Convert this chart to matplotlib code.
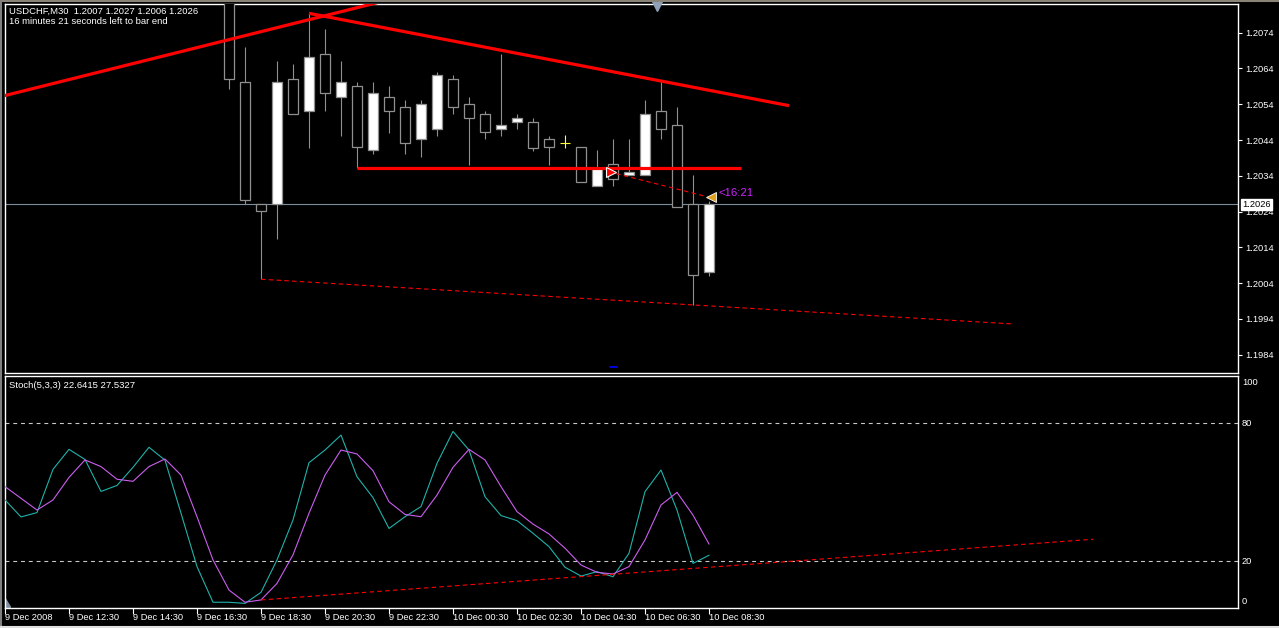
import matplotlib
matplotlib.use("Agg")
import matplotlib.pyplot as plt
import matplotlib.transforms as mtransforms
import numpy as np

plt.rcParams['font.family'] = ['Liberation Sans', 'DejaVu Sans']

# --- data ----------------------------------------------------------------
# bar index 0 = 9 Dec 10:30, one bar per 30 minutes
bar_idx = list(range(14, 45))
opens = [1.2086, 1.20601, 1.20261, 1.20261, 1.20610, 1.20520, 1.20680, 1.20560,
         1.20590, 1.20412, 1.20560, 1.20532, 1.20442, 1.20470, 1.20610, 1.20540,
         1.20512, 1.20470, 1.20490, 1.20490, 1.20442, 1.20433, 1.20420, 1.20311,
         1.20372, 1.20342, 1.20342, 1.20520, 1.20481, 1.20261, 1.2007]
highs = [1.2090, 1.20700, 1.20261, 1.20661, 1.20653, 1.20794, 1.20749, 1.20661,
         1.20601, 1.20601, 1.20590, 1.20552, 1.20552, 1.20630, 1.20621, 1.20560,
         1.20520, 1.20680, 1.20512, 1.20501, 1.20450, 1.20453, 1.20420, 1.20412,
         1.20442, 1.20442, 1.20552, 1.20601, 1.20532, 1.20342, 1.2027]
lows = [1.20582, 1.20262, 1.20051, 1.20163, 1.20512, 1.20419, 1.20520, 1.20450,
        1.20361, 1.20400, 1.20460, 1.20400, 1.20392, 1.20450, 1.20512, 1.20371,
        1.20442, 1.20450, 1.20470, 1.20410, 1.20371, 1.20419, 1.20322, 1.20311,
        1.20311, 1.20342, 1.20342, 1.20442, 1.20252, 1.19979, 1.2006]
closes = [1.20610, 1.20272, 1.20241, 1.20601, 1.20512, 1.20671, 1.20571, 1.20601,
          1.20420, 1.20571, 1.20520, 1.20431, 1.20540, 1.20621, 1.20532, 1.20501,
          1.20462, 1.20481, 1.20501, 1.20419, 1.20420, 1.20433, 1.20322, 1.20361,
          1.20330, 1.20350, 1.20512, 1.20470, 1.20252, 1.20062, 1.2026]

stoch_main = [46.7, 39.3, 41.2, 60.0, 68.7, 64.3, 50.4, 53.0, 60.9, 69.6,
              64.0, 40.9, 17.7, 2.2, 2.2, 1.7, 6.5, 20.6, 38.0, 62.9,
              68.4, 74.9, 56.8, 47.7, 34.3, 39.4, 43.8, 62.6, 76.5, 68.4,
              48.1, 39.9, 37.7, 32.2, 26.4, 17.4, 13.6, 15.5, 13.3, 23.5,
              50.3, 59.7, 42.3, 19.1, 22.6415]
stoch_signal = [52.5, 47.4, 42.3, 46.7, 56.5, 64.1, 61.2, 55.7, 54.8, 61.2,
                64.5, 57.5, 39.4, 20.6, 7.5, 2.2, 3.2, 10.4, 22.8, 40.9,
                57.5, 68.4, 66.7, 59.4, 45.9, 40.4, 39.4, 48.8, 60.9, 68.7,
                64.1, 52.5, 41.6, 36.2, 31.9, 25.7, 18.4, 15.2, 14.5, 17.7,
                29.3, 44.5, 50.0, 40.1, 27.5327]

price_ticks = [1.2074, 1.2064, 1.2054, 1.2044, 1.2034, 1.2024, 1.2014, 1.2004, 1.1994, 1.1984]
time_tick_bars = list(range(0, 45, 4))
time_tick_labels = ["9 Dec 2008", "9 Dec 12:30", "9 Dec 14:30", "9 Dec 16:30",
                    "9 Dec 18:30", "9 Dec 20:30", "9 Dec 22:30", "10 Dec 00:30",
                    "10 Dec 02:30", "10 Dec 04:30", "10 Dec 06:30", "10 Dec 08:30"]

# drawn objects: (bar, price) anchors
trend_up = [(-2, 1.20542), (24, 1.20832)]
trend_down = [(19, 1.20794), (49, 1.20536)]
support = [(22, 1.20361), (46, 1.20361)]
lower_dotted = [(16, 1.20051), (63, 1.19926)]
order_line = [(38.2, 1.20346), (43.85, 1.20282)]
stoch_dotted = [(16, 3.2), (68, 29.6)]

last_price = 1.2026
order_arrow = (37.9, 1.20351)
timer_marker = (44.1, 1.2028)
timer_text = "<16:21"

# --- figure --------------------------------------------------------------
W, H = 1279, 628
fig = plt.figure(figsize=(W / 100, H / 100), dpi=100, facecolor='black')

def px_axes(x0, y0, x1, y1):
    return fig.add_axes([x0 / W, 1 - y1 / H, (x1 - x0) / W, (y1 - y0) / H])

ax = px_axes(5, 4, 1238, 373)
ax2 = px_axes(5, 376, 1238, 608)
bar_px = 16.0
xmax = (1238 - 5) / bar_px

for a in (ax, ax2):
    a.set_facecolor('black')
    a.set_xlim(0, xmax)
    for s in a.spines.values():
        s.set_color('white')
        s.set_linewidth(1.0)

ax.set_ylim(1.19789, 1.20820)
ax2.set_ylim(-0.3, 100.6)

# candles
grey = '#909090'
for b, o, h, l, c in zip(bar_idx, opens, highs, lows, closes):
    if o == c:
        ax.vlines(b, l, h, color='#ffff33', lw=0.8, zorder=3)
        ax.hlines(o, b - 0.33, b + 0.33, color='#ffff33', lw=0.8, zorder=3)
        continue
    ax.vlines(b, l, h, color=grey, lw=0.8, zorder=2)
    fill = 'white' if c > o else 'black'
    ax.bar(b, abs(c - o), bottom=min(o, c), width=0.62, color=fill,
           edgecolor=grey, linewidth=0.9, zorder=3)

# current price line
ax.axhline(last_price, color='#7f8c9c', lw=0.8, zorder=1)

# trend lines
for line in (trend_up, trend_down, support):
    xs, ys = zip(*line)
    ax.plot(xs, ys, color='#ff0000', lw=2.3, solid_capstyle='butt', zorder=4)
for line in (lower_dotted, order_line):
    xs, ys = zip(*line)
    ax.plot(xs, ys, color='#ff0000', lw=0.8, dashes=(4, 3), zorder=4)

ax.plot(*order_arrow, marker='>', ms=7, color='#ff0000', mec='white', mew=0.8, zorder=6)
ax.plot(*timer_marker, marker='<', ms=7, color='#e0a020', mec='white', mew=0.6, zorder=6)
ax.annotate(timer_text, xy=timer_marker, xytext=(8, 4), textcoords='offset pixels',
            color='#d020ff', fontsize=8.2, va='center', ha='left')

# chart shift marker and small blue mark
tr_top = mtransforms.blended_transform_factory(ax.transData, ax.transAxes)
ax.plot([40.75], [0.995], marker='v', ms=7, color='#8fa0b8', transform=tr_top,
        clip_on=False, zorder=6)
ax.plot([37.8, 38.25], [0.015, 0.015], color='#0000ff', lw=1.2, transform=tr_top)

# price axis
ax.yaxis.tick_right()
ax.set_yticks(price_ticks)
ax.set_yticklabels([f"{p:.4f}" for p in price_ticks])
ax.tick_params(axis='y', colors='white', length=3, width=0.8, pad=2, labelsize=6.7)
ax.set_xticks([])
ax.annotate(f"{last_price:.4f}", xy=(1, last_price), xycoords=('axes fraction', 'data'),
            xytext=(4, 0), textcoords='offset pixels', va='center', ha='left',
            fontsize=6.7, color='black',
            bbox=dict(boxstyle='square,pad=0.15', fc='white', ec='white'), zorder=7)

ax.annotate("USDCHF,M30  1.2007 1.2027 1.2006 1.2026", xy=(0, 1), xycoords='axes fraction',
            xytext=(4, -7), textcoords='offset pixels', va='center', ha='left',
            fontsize=6.8, color='white')
ax.annotate("16 minutes 21 seconds left to bar end", xy=(0, 1), xycoords='axes fraction',
            xytext=(4, -17), textcoords='offset pixels', va='center', ha='left',
            fontsize=6.8, color='white')

# stochastic panel
xs = np.arange(len(stoch_main))
ax2.plot(xs, stoch_main, color='#20b2aa', lw=0.8, zorder=3)
ax2.plot(xs, stoch_signal, color='#cc5ef0', lw=0.8, zorder=3)
for lvl in (80, 20):
    ax2.axhline(lvl, color='#c8c8c8', lw=0.8, dashes=(3.5, 3.5), zorder=1)
sx, sy = zip(*stoch_dotted)
ax2.plot(sx, sy, color='#ff0000', lw=0.8, dashes=(4, 3), zorder=4)
ax2.fill([0, 0.35, 0], [0, 0, 4], color='#8090a0', zorder=2)

ax2.set_yticks([])
ax2.set_xticks(time_tick_bars)
ax2.set_xticklabels([])
ax2.tick_params(axis='x', colors='white', length=4, width=0.8, direction='out')
for b, lab in zip(time_tick_bars, time_tick_labels):
    ax2.annotate(lab, xy=(b, 0), xycoords=('data', 'axes fraction'), xytext=(0, -10),
                 textcoords='offset pixels', ha='left', va='center', fontsize=6.7,
                 color='white', annotation_clip=False)
for v, dy in ((100, -5), (80, 0), (20, 0), (0, 6)):
    ax2.annotate(str(v), xy=(1, v), xycoords=('axes fraction', 'data'), xytext=(4, dy),
                 textcoords='offset pixels', ha='left', va='center', fontsize=6.7,
                 color='white', annotation_clip=False)
ax2.annotate("Stoch(5,3,3) 22.6415 27.5327", xy=(0, 1), xycoords='axes fraction',
             xytext=(4, -9), textcoords='offset pixels', va='center', ha='left',
             fontsize=6.8, color='white')

# window frame bits
fig.add_artist(plt.Line2D([0, 1], [1 - 1 / H, 1 - 1 / H], color='#8a8478', lw=1.5))
fig.add_artist(plt.Line2D([1 / W, 1 / W], [0, 1], color='#808080', lw=1.5))
fig.add_artist(plt.Line2D([0, 1], [1.5 / H, 1.5 / H], color='#e0e0e0', lw=1.5))

fig.savefig("out.png", dpi=100, facecolor='black')
